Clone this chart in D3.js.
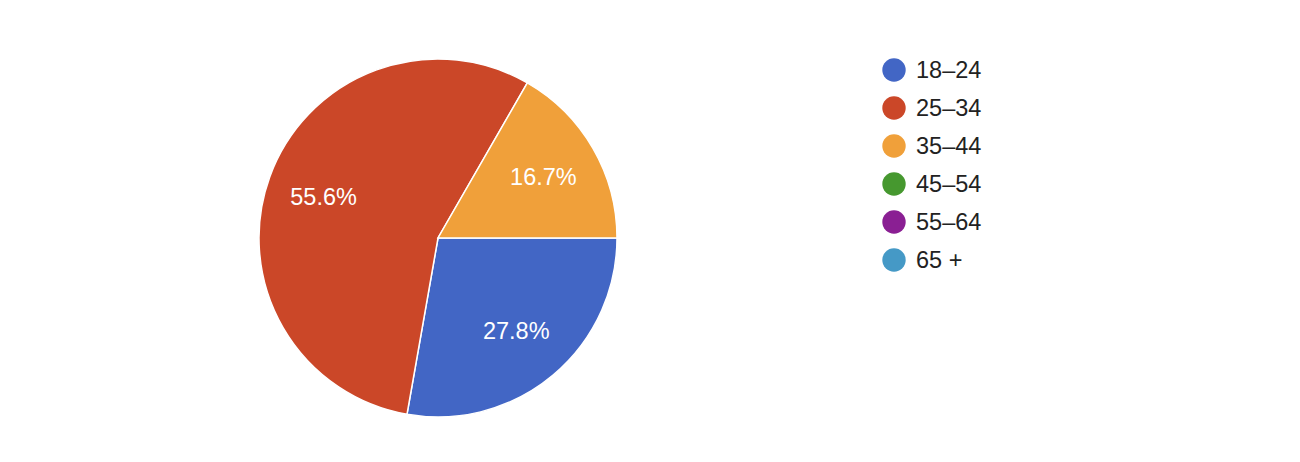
<!DOCTYPE html>
<html>
<head>
<meta charset="utf-8">
<script src="https://cdn.jsdelivr.net/npm/d3@7"></script>
<style>
  body { margin: 0; background: #fff; }
  text { font-family: "Liberation Sans", Arial, Helvetica, sans-serif; }
</style>
</head>
<body>
<script>
// age groups and their share of responses (percent)
var categories = ['18–24', '25–34', '35–44', '45–54', '55–64', '65 +'];
var shares = [27.8, 55.6, 16.7, 0, 0, 0];
var colours = ['#4266c5', '#cb4728', '#f0a03a', '#46982f', '#8a1f93', '#4599c6'];

var w = 1300, h = 462,
	cx = 438, cy = 238,
	r = 179,
	fontSize = 23.5;

var τ = Math.PI * 2;

var data = categories.map(function(c, i) {
	return { name: c, value: shares[i] };
});

var svg = d3.select('body').append('svg')
	.attr('width', w)
	.attr('height', h);

var colour = d3.scaleOrdinal()
	.domain(categories)
	.range(colours);

// slices start at 3 o'clock and go clockwise
var pie = d3.pie()
	.sort(null)
	.value(function(d) { return d.value; })
	.startAngle(τ / 4)
	.endAngle(τ / 4 + τ);

var arc = d3.arc()
	.innerRadius(0)
	.outerRadius(r);

var labelArc = d3.arc()
	.innerRadius(r * 0.68)
	.outerRadius(r * 0.68);

var g = svg.append('g')
	.attr('transform', 'translate(' + cx + ',' + cy + ')');

var slices = pie(data).filter(function(d) { return d.value > 0; });

g.selectAll('path')
	.data(slices)
	.enter().append('path')
		.attr('d', arc)
		.attr('fill', function(d) { return colour(d.data.name); })
		.attr('stroke', '#fff')
		.attr('stroke-width', 1.5);

g.selectAll('text')
	.data(slices)
	.enter().append('text')
		.attr('transform', function(d) { return 'translate(' + labelArc.centroid(d) + ')'; })
		.attr('text-anchor', 'middle')
		.attr('dy', '0.35em')
		.attr('fill', '#fff')
		.style('font-size', fontSize + 'px')
		.text(function(d) { return d.data.value.toFixed(1) + '%'; });

// legend
var ly = d3.scalePoint()
	.domain(categories)
	.range([70, 260]);

var legend = svg.append('g')
	.selectAll('g')
	.data(categories)
	.enter().append('g')
		.attr('transform', function(d) { return 'translate(894,' + ly(d) + ')'; });

legend.append('circle')
	.attr('r', 11.7)
	.attr('fill', function(d) { return colour(d); });

legend.append('text')
	.attr('x', 22)
	.attr('dy', '0.35em')
	.attr('fill', '#222')
	.style('font-size', fontSize + 'px')
	.text(function(d) { return d; });
</script>
</body>
</html>
